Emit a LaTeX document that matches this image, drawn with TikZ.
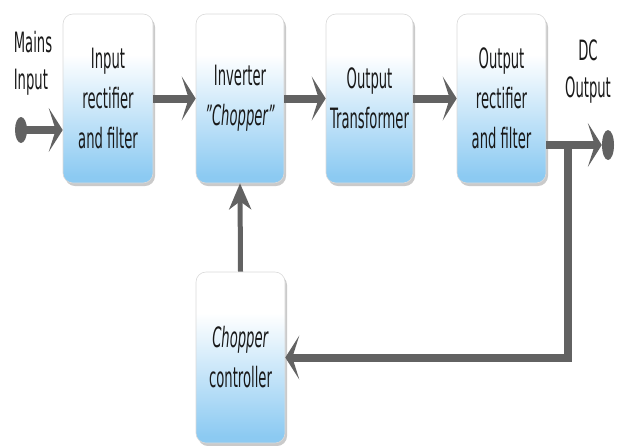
\documentclass[tikz,border=0pt]{standalone}
\usepackage{fontspec}
\setmainfont{DejaVu Sans}[FakeStretch=0.47]
\usetikzlibrary{arrows.meta,shadows,shapes.geometric}
\definecolor{boxblue}{RGB}{140,202,242}
\definecolor{arrowgray}{RGB}{98,98,98}
\definecolor{txt}{RGB}{25,25,25}
\pgfdeclareverticalshading{boxshade}{100bp}{color(0bp)=(boxblue); color(27bp)=(boxblue); color(63bp)=(white); color(100bp)=(white)}
\tikzset{
  blockbox/.style={rounded corners=10pt, draw=black!15, line width=0.6pt,
    shade, shading=boxshade,
    drop shadow={shadow xshift=2pt, shadow yshift=-3pt, opacity=0.35, fill=black!60},
    text=txt, align=center, font=\fontsize{28}{40}\selectfont, inner sep=0pt,
    minimum height=169pt},
  lbl/.style={text=txt, font=\fontsize{28}{37}\selectfont, inner sep=0pt},
  bigarr/.style={draw=arrowgray, line width=8pt, -{Stealth[length=14pt, width=44pt, inset=7pt]}},
  smallarr/.style={draw=arrowgray, line width=5pt, -{Stealth[length=26pt, width=22pt, inset=8pt]}},
  dotend/.style={ellipse, fill=arrowgray, draw=none, inner sep=0pt, minimum width=12pt, minimum height=28pt}
}
\begin{document}
\begin{tikzpicture}[x=1pt, y=-1pt]
\useasboundingbox (0,0) rectangle (617,445);
\node[blockbox, minimum width=90pt] (b1) at (108,98.5) {Input\\rectifier\\and filter};
\node[blockbox, minimum width=88pt] (b2) at (240,98.5) {Inverter\\\textit{"Chopper"}};
\node[blockbox, minimum width=87pt] (b3) at (369.5,98.5) {Output\\Transformer};
\node[blockbox, minimum width=89pt] (b4) at (501.5,98.5) {Output\\rectifier\\and filter};
\node[blockbox, minimum width=89pt, minimum height=171pt] (ctrl) at (240.5,357.5) {\textit{Chopper}\\controller};
\node[lbl, align=left] (mains) at (33,63) {Mains\\Input};
\node[lbl, align=center] (dcout) at (588,72) {DC\\Output};
\node[dotend, minimum height=26pt] (din) at (21,130) {};
\node[dotend, minimum height=30pt] (dout) at (608,145) {};
\coordinate (fb) at (568,145);
\draw[bigarr] (din.center) -- (din.center -| b1.west);
\draw[bigarr] (b1) -- (b2);
\draw[bigarr] (b2) -- (b3);
\draw[bigarr] (b3) -- (b4);
\draw[bigarr] (b4.east |- dout) -- (dout.west);
\draw[bigarr] (fb) |- (ctrl.east);
\draw[smallarr] (ctrl.north) -- (b2.south);
\end{tikzpicture}
\end{document}
